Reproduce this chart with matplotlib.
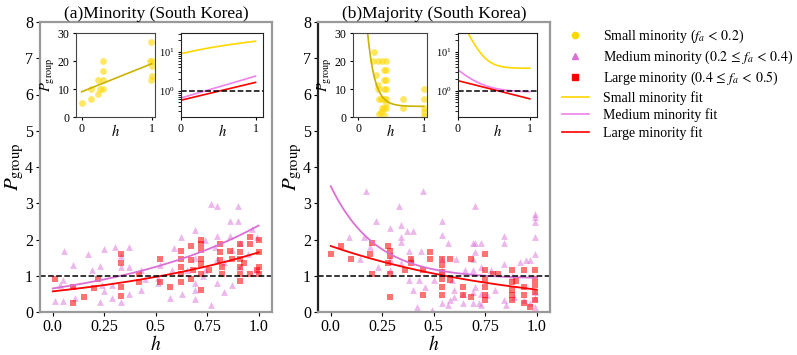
import numpy as np
import matplotlib as mpl
mpl.use("Agg")
import matplotlib.pyplot as plt
from matplotlib.lines import Line2D

mpl.rcParams['font.family'] = ['Liberation Serif', 'DejaVu Serif']
mpl.rcParams['mathtext.fontset'] = 'stix'

# ---- data ----
# (a) minority, medium minority (triangles)
a_med_h = [0.01, 0.056, 0.05, 0.035, 0.05, 0.10, 0.11, 0.10, 0.17, 0.19, 0.23, 0.25, 0.25, 0.24, 0.23,
           0.30, 0.29, 0.29, 0.33, 0.33, 0.33, 0.37, 0.37, 0.37, 0.43, 0.43, 0.45, 0.51, 0.51, 0.52,
           0.57, 0.58, 0.59, 0.625, 0.63, 0.65, 0.69, 0.69, 0.69, 0.69, 0.69, 0.73, 0.74, 0.74, 0.77,
           0.77, 0.79, 0.80, 0.80, 0.80, 0.80, 0.83, 0.83, 0.86, 0.86, 0.87, 0.87, 0.90, 0.90, 0.91,
           0.91, 0.95, 0.97, 0.99, 0.99]
a_med_p = [0.30, 1.68, 0.88, 0.74, 0.30, 1.29, 0.38, 0.72, 1.61, 1.15, 1.28, 1.75, 0.59, 0.74, 0.27,
           1.78, 0.74, 0.38, 1.54, 0.28, 1.25, 1.78, 1.23, 0.51, 0.62, 1.17, 0.92, 0.81, 0.95, 1.31,
           0.40, 1.15, 1.77, 2.07, 0.51, 1.15, 0.79, 2.25, 1.50, 0.35, 0.60, 1.00, 1.98, 1.17, 2.99,
           0.19, 1.79, 2.92, 2.09, 1.47, 0.79, 1.38, 0.56, 2.51, 2.09, 1.70, 0.75, 2.92, 2.51, 1.90,
           1.25, 1.61, 2.30, 2.07, 1.15]
# (a) minority, large minority (squares)
a_lrg_h = [0.01, 0.10, 0.10, 0.15, 0.20, 0.22, 0.33, 0.33, 0.33, 0.33, 0.42, 0.42, 0.52, 0.52, 0.57,
           0.625, 0.625, 0.625, 0.625, 0.625, 0.67, 0.67, 0.67, 0.68, 0.72, 0.72, 0.72, 0.72, 0.72,
           0.72, 0.72, 0.76, 0.81, 0.81, 0.81, 0.82, 0.82, 0.86, 0.87, 0.91, 0.91, 0.91, 0.91, 0.91,
           0.91, 0.93, 0.96, 0.96, 0.96, 0.99, 1.0, 1.0, 1.0, 1.0]
a_lrg_p = [0.91, 0.70, 0.24, 0.42, 0.67, 0.91, 1.59, 1.36, 0.70, 0.45, 1.04, 0.83, 1.46, 0.83, 0.70,
           1.68, 1.45, 1.25, 1.04, 0.83, 1.81, 1.43, 0.90, 1.17, 1.98, 1.87, 1.70, 1.47, 1.32,
           1.04, 0.62, 1.17, 1.87, 1.66, 1.43, 1.25, 1.04, 1.68, 1.45, 1.87, 1.66, 1.47, 1.25, 1.04,
           0.85, 1.36, 2.07, 1.87, 1.04, 1.15, 1.98, 1.66, 1.25, 1.04]
# (a) minority, small minority (circles, inset)
a_sml_h = [0.0, 0.14, 0.14, 0.24, 0.24, 0.26, 0.30, 0.30, 0.30, 0.30, 0.99, 1.0, 1.0, 1.0, 0.98, 0.99]
a_sml_p = [4.9, 6.4, 9.9, 8.1, 13.1, 9.9, 13.1, 19.9, 16.6, 9.9, 13.1, 14.8, 18.2, 19.9, 19.9, 26.7]

# (b) majority, medium minority (triangles)
b_med_h = [0.17, 0.45, 0.33, 0.70, 0.22, 0.54, 0.09, 0.16, 0.29, 0.34, 0.34, 0.37, 0.40, 0.34, 0.38,
           0.44, 0.19, 0.14, 0.23, 0.29, 0.29, 0.34, 0.39, 0.38, 0.43, 0.40, 0.46, 0.50, 0.54, 0.54,
           0.54, 0.54, 0.59, 0.60, 0.60, 0.64, 0.69, 0.69, 0.69, 0.69, 0.69, 0.73, 0.73, 0.73, 0.73,
           0.42, 0.49, 0.57, 0.70, 0.70, 0.84, 0.84, 0.84, 0.88, 0.92, 0.95, 0.97, 0.99, 0.99, 0.99,
           0.99, 0.99, 0.78, 0.80, 0.84, 0.85, 0.89, 0.94, 0.97, 0.99, 0.99, 0.99, 0.70, 0.64, 0.58,
           0.57, 0.76, 0.72, 0.65, 0.61]
b_med_p = [3.33, 3.33, 2.92, 2.92, 2.51, 2.51, 2.07, 2.07, 2.33, 2.39, 2.07, 2.23, 2.23, 1.93, 1.68,
           1.68, 1.78, 1.47, 1.25, 1.47, 1.17, 1.34, 1.47, 0.88, 0.88, 0.60, 0.70, 0.88, 2.12, 1.47,
           1.15, 0.26, 0.88, 0.60, 0.42, 0.24, 1.89, 1.47, 1.15, 0.56, 0.26, 1.89, 1.25, 0.51, 0.19,
           0.15, 0.05, 1.89, 1.89, 1.66, 2.09, 1.90, 1.32, 0.99, 1.38, 1.43, 1.43, 2.71, 2.62, 2.48,
           2.07, 1.61, 1.15, 0.60, 0.33, 0.19, 0.42, 0.33, 0.24, 0.56, 0.38, 0.15, 0.70, 0.51, 0.33,
           0.19, 0.47, 0.24, 1.15, 1.47]
# (b) majority, large minority (squares)
b_lrg_h = [0.0, 0.05, 0.10, 0.20, 0.19, 0.20, 0.28, 0.28, 0.29, 0.29, 0.29, 0.29, 0.36, 0.39, 0.39,
           0.45, 0.45, 0.48, 0.48, 0.54, 0.54, 0.54, 0.54, 0.54, 0.54, 0.58, 0.58, 0.64, 0.64, 0.68,
           0.68, 0.75, 0.75, 0.75, 0.75, 0.75, 0.75, 0.79, 0.81, 0.88, 0.88, 0.88, 0.88, 0.88, 0.90,
           0.94, 0.94, 0.94, 0.94, 0.99, 0.99, 0.99, 0.99, 0.99, 0.97]
b_lrg_p = [1.59, 1.81, 1.46, 1.89, 1.59, 1.04, 1.81, 1.36, 1.68, 1.54, 0.42, 1.04, 1.15, 1.47, 1.36,
           1.15, 0.47, 1.66, 1.47, 1.47, 1.29, 1.11, 0.92, 0.70, 0.47, 1.47, 0.88, 0.70, 0.47, 1.47,
           0.42, 1.59, 1.15, 0.92, 0.70, 0.47, 0.33, 1.04, 1.04, 1.15, 0.83, 0.60, 0.47, 0.33, 0.86,
           1.15, 0.70, 0.47, 0.24, 1.15, 0.92, 0.74, 0.56, 0.33, 0.15]
# (b) majority, small minority (circles, inset)
b_sml_h = [0.24, 0.23, 0.30, 0.27, 0.30, 0.30, 0.31, 0.37, 0.40, 0.40, 0.40, 0.40, 0.34, 0.37, 0.34,
           0.40, 0.43, 0.43, 0.43, 0.43, 0.43, 0.43, 0.43, 0.40, 0.69, 0.69, 1.0, 1.0, 1.0, 1.0, 1.0, 0.31]
b_sml_p = [23.1, 19.9, 19.9, 15.0, 11.5, 9.9, 6.4, 19.9, 16.7, 13.1, 9.9, 3.2, 6.4, 3.2, 1.7,
           6.4, 19.9, 16.7, 13.1, 9.9, 6.4, 4.9, 3.2, 0.8, 6.4, 3.2, 9.9, 6.4, 3.2, 1.7, 0.2, 1.0]

# fit parameters
a_sml_fit = (9.0, 10.0)          # linear: a + b h
a_med_fit = (0.65, 1.3)          # a exp(b h)
a_lrg_fit = (0.57, 1.06)
b_sml_fit = (3.8, 95.0, 9.0)     # c + a exp(-b h)
b_med_fit = (0.92, 2.55, 4.6)
b_lrg_fit = (1.82, 1.08)         # a exp(-b h)

hh = np.linspace(0, 1, 200)
fits = {
    'a': (a_sml_fit[0] + a_sml_fit[1] * hh,
          a_med_fit[0] * np.exp(a_med_fit[1] * hh),
          a_lrg_fit[0] * np.exp(a_lrg_fit[1] * hh)),
    'b': (b_sml_fit[0] + b_sml_fit[1] * np.exp(-b_sml_fit[2] * hh),
          b_med_fit[0] + b_med_fit[1] * np.exp(-b_med_fit[2] * hh),
          b_lrg_fit[0] * np.exp(-b_lrg_fit[1] * hh)),
}

c_sml, c_med, c_lrg = 'gold', 'orchid', 'red'
c_sml_line = '#cbb200'

fig = plt.figure(figsize=(7.97, 3.55), dpi=100)
W, H = 797., 355.


def box(x0, x1, y0, y1):
    return [x0 / W, 1 - y1 / H, (x1 - x0) / W, (y1 - y0) / H]


panels = [
    ('a', '(a)Minority (South Korea)', box(40, 272, 22, 312), box(76, 155, 33, 117), box(181, 263, 33, 117),
     a_med_h, a_med_p, a_lrg_h, a_lrg_p, a_sml_h, a_sml_p),
    ('b', '(b)Majority (South Korea)', box(318, 550, 22, 312), box(353, 427, 33, 117), box(458, 537, 33, 117),
     b_med_h, b_med_p, b_lrg_h, b_lrg_p, b_sml_h, b_sml_p),
]

for key, title, mrect, r1, r2, mh, mp, lh, lp, sh, sp in panels:
    ax = fig.add_axes(mrect)
    ax.scatter(mh, mp, marker='^', s=24, color=c_med, alpha=0.5, linewidths=0)
    ax.scatter(lh, lp, marker='s', s=22, color=c_lrg, alpha=0.55, linewidths=0)
    f_s, f_m, f_l = fits[key]
    ax.plot(hh, f_m, color=c_med, lw=1.3)
    ax.plot(hh, f_l, color=c_lrg, lw=1.3)
    ax.axhline(1, color='k', ls='--', lw=1.1)
    ax.set_xlim(-0.062, 1.065)
    ax.set_ylim(0, 8)
    ax.set_xticks([0, 0.25, 0.5, 0.75, 1.0])
    ax.set_xticklabels(['0.0', '0.25', '0.5', '0.75', '1.0'])
    ax.tick_params(labelsize=11.5, length=3, pad=2)
    ax.set_xlabel('$h$', fontsize=14, labelpad=0)
    ax.set_ylabel(r'$P_{\rm group}$', fontsize=15, labelpad=-1)
    ax.set_title(title, fontsize=12.5, pad=2)
    for s in ax.spines.values():
        s.set_color('#999999')
        s.set_linewidth(1.6)
    if key == 'b':
        ax.spines['left'].set_color('#222222')

    # inset 1: small minority
    ax1 = fig.add_axes(r1)
    ax1.scatter(sh, sp, marker='o', s=24, color=c_sml, alpha=0.6, linewidths=0)
    ax1.plot(hh, f_s, color=c_sml_line, lw=1.2)
    ax1.set_ylim(0, 30)
    ax1.set_xlim(-0.08, 1.05)
    ax1.set_xticks([0, 1])
    ax1.set_yticks([0, 10, 20, 30])
    ax1.tick_params(labelsize=8.5, length=2.5, pad=2)
    ax1.set_xlabel('$h$', fontsize=10.5, labelpad=-9)
    ax1.set_ylabel(r'$P_{\rm group}$', fontsize=10.5, labelpad=0.5)
    for s in ax1.spines.values():
        s.set_color('#444444')

    # inset 2: fits on a log scale
    ax2 = fig.add_axes(r2)
    ax2.plot(hh, f_s, color=c_sml, lw=1.2)
    ax2.plot(hh, f_m, color='violet', lw=1.2)
    ax2.plot(hh, f_l, color=c_lrg, lw=1.2)
    ax2.axhline(1, color='k', ls='--', lw=1.1)
    ax2.set_yscale('log')
    ax2.set_ylim(0.21, 31)
    ax2.set_xlim(0, 1.1)
    ax2.set_xticks([0, 1])
    ax2.tick_params(labelsize=8.5, length=2.5, pad=2)
    ax2.tick_params(axis='y', labelsize=7.5)
    ax2.set_xlabel('$h$', fontsize=10.5, labelpad=-9)
    for s in ax2.spines.values():
        s.set_color('#222222')

handles = [
    Line2D([], [], marker='o', ls='none', color=c_sml, markersize=4.5),
    Line2D([], [], marker='^', ls='none', color=c_med, markersize=4.5),
    Line2D([], [], marker='s', ls='none', color=c_lrg, markersize=4.5),
    Line2D([], [], color=c_sml, lw=1.2),
    Line2D([], [], color='violet', lw=1.2),
    Line2D([], [], color=c_lrg, lw=1.2),
]
labels = [
    r'Small minority ($f_a\,<\,0.2$)',
    r'Medium minority ($0.2\,\leq\,f_a\,<\,0.4$)',
    r'Large minority ($0.4\,\leq\,f_a\,<\,0.5$)',
    'Small minority fit',
    'Medium minority fit',
    'Large minority fit',
]
fig.legend(handles, labels, loc='upper left', bbox_to_anchor=(556 / W, 1 - 22 / H),
           frameon=False, fontsize=10, handlelength=2.0, handletextpad=1.0,
           labelspacing=0.27, borderaxespad=0)

plt.savefig('out.png', dpi=100)
